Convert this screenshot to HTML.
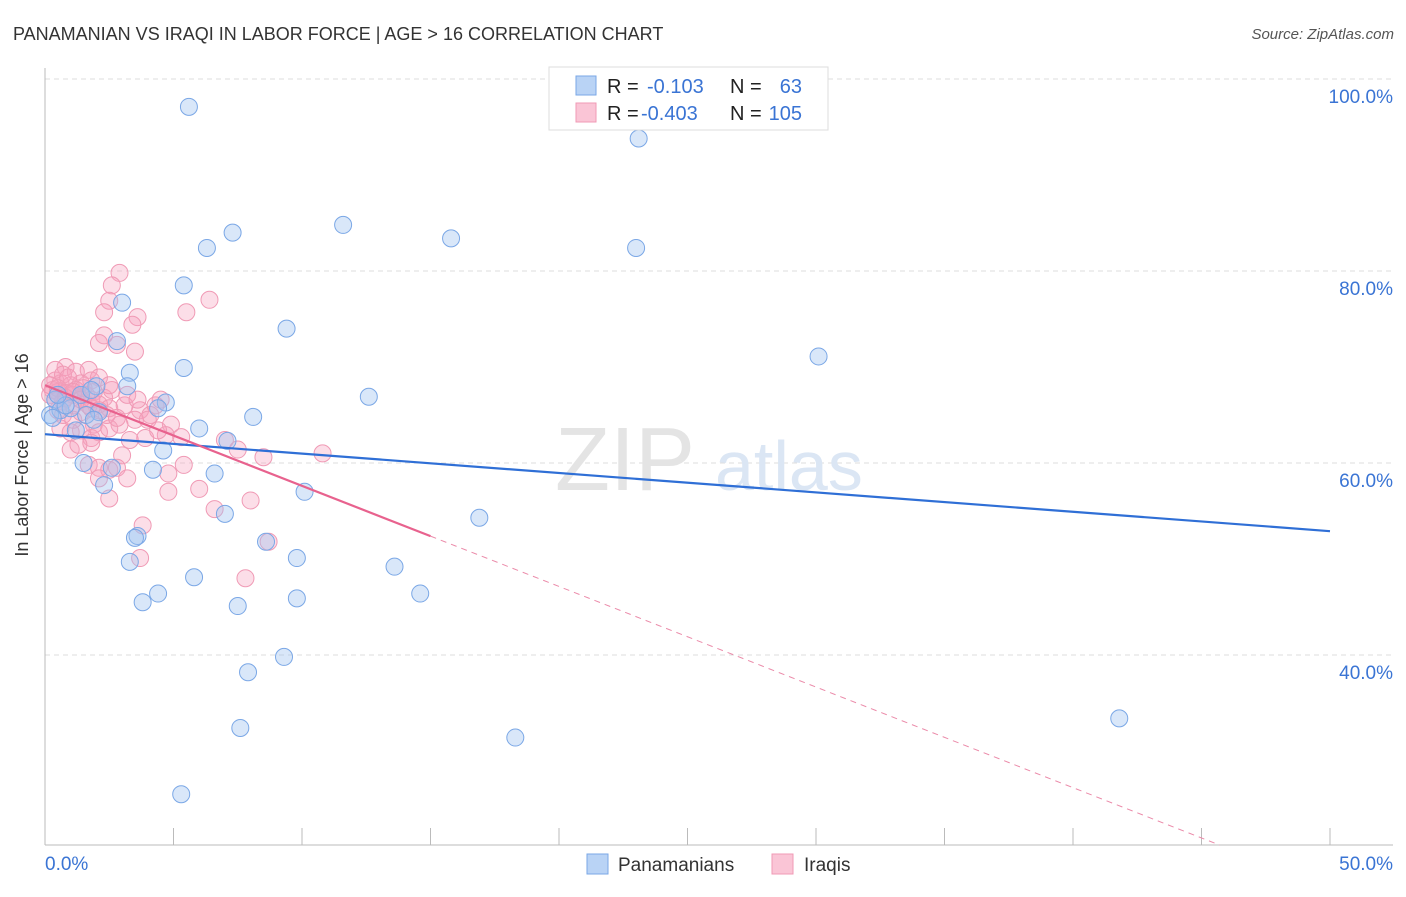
<!DOCTYPE html>
<html><head><meta charset="utf-8"><style>
body{margin:0;background:#fff;font-family:"Liberation Sans",sans-serif;}
svg text{font-family:"Liberation Sans",sans-serif;}
</style></head><body>
<svg id="chart" width="1406" height="892" xmlns="http://www.w3.org/2000/svg">
<text x="13" y="40" font-size="18" fill="#333">PANAMANIAN VS IRAQI IN LABOR FORCE | AGE &gt; 16 CORRELATION CHART</text>
<text x="1394" y="39" font-size="15" fill="#555" font-style="italic" text-anchor="end">Source: ZipAtlas.com</text>
<g id="grid"></g>
<text x="555" y="490" font-size="90" fill="#e4e4e4" font-family="Liberation Serif">ZIP</text>
<text x="715" y="490" font-size="70" fill="#dbe6f4">atlas</text>
<g id="axes"></g>
<g id="points"></g>
<g id="trends"></g>
<text x="28" y="455" font-size="18" fill="#333" text-anchor="middle" transform="rotate(-90 28 455)">In Labor Force | Age &gt; 16</text>
<g>
<rect x="549" y="67" width="279" height="63" fill="#fff" stroke="#ddd"/>
<rect x="576" y="76" width="20" height="19" fill="#b9d3f5" stroke="#7aa7e6"/>
<rect x="576" y="103" width="20" height="19" fill="#fac5d6" stroke="#f09ab5"/>
<text x="607" y="93" font-size="20" fill="#222">R = </text><text x="647" y="93" font-size="20" fill="#3a74d4">-0.103</text>
<text x="730" y="93" font-size="20" fill="#222">N = </text><text x="802" y="93" font-size="20" fill="#3a74d4" text-anchor="end">63</text>
<text x="607" y="120" font-size="20" fill="#222">R = </text><text x="641" y="120" font-size="20" fill="#3a74d4">-0.403</text>
<text x="730" y="120" font-size="20" fill="#222">N = </text><text x="802" y="120" font-size="20" fill="#3a74d4" text-anchor="end">105</text>
</g>
<g>
<rect x="587" y="854" width="21" height="20" fill="#b9d3f5" stroke="#7aa7e6"/>
<text x="618" y="871" font-size="19" fill="#333">Panamanians</text>
<rect x="772" y="854" width="21" height="20" fill="#fac5d6" stroke="#f09ab5"/>
<text x="804" y="871" font-size="19" fill="#333">Iraqis</text>
</g>
</svg>
<script>
const yTicks=[100,80,60,40];
const yTickLabels=["100.0%","80.0%","60.0%","40.0%"];
const xTickLabels=["0.0%","50.0%"];
const blueX=[5.6,23.1,7.3,11.6,15.8,23.0,6.3,5.4,3.0,9.4,2.8,30.1,5.4,3.3,3.2,2.0,12.6,8.1,4.7,4.4,6.0,7.1,4.6,4.2,6.6,2.6,1.5,2.3,10.1,7.0,16.9,3.6,3.5,8.6,9.8,3.3,13.6,5.8,4.4,3.8,9.8,14.6,7.5,9.3,7.9,41.8,7.6,18.3,5.3,0.2,0.4,0.6,1.0,1.4,1.8,2.1,1.2,0.8,0.3,1.6,1.9,0.5];
const blueY=[97.1,93.8,84.0,84.8,83.4,82.4,82.4,78.5,76.7,74.0,72.7,71.1,69.9,69.4,68.0,68.0,66.9,64.8,66.3,65.7,63.6,62.3,61.3,59.3,58.9,59.5,60.0,57.7,57.0,54.7,54.3,52.4,52.2,51.8,50.1,49.7,49.2,48.1,46.4,45.5,45.9,46.4,45.1,39.8,38.2,33.4,32.4,31.4,25.5,65.0,66.6,65.5,65.7,67.1,67.6,65.3,63.4,66.0,64.7,65.0,64.5,67.1];
const pinkX=[2.9,2.6,2.5,3.6,2.3,3.4,2.3,2.1,2.8,3.5,6.4,5.5,0.8,1.2,1.7,0.4,0.6,1.0,1.4,1.8,2.1,0.3,0.5,0.8,1.1,1.6,1.9,2.3,2.6,0.4,0.7,1.1,1.7,2.1,2.5,3.1,3.7,4.3,4.5,4.1,4.9,3.5,2.9,1.9,1.4,1.0,1.8,2.1,0.6,2.5,4.7,5.3,3.3,3.9,7.0,7.5,8.5,10.8,1.0,1.8,1.3,3.0,1.7,2.1,2.5,2.8,2.1,3.2,4.8,5.4,6.0,2.5,3.8,6.6,8.0,4.8,3.7,7.8,8.7,0.4,0.7,0.9,1.2,1.5,1.8,2.5,0.2,0.5,0.7,1.1,1.4,0.2,0.5,0.8,1.1,1.4,1.8,2.1,2.4,2.8,3.2,3.6,4.0,4.4];
const pinkY=[79.8,78.5,76.9,75.2,75.7,74.4,73.3,72.5,72.3,71.6,77.0,75.7,70.0,69.5,69.7,68.6,68.3,68.1,68.3,68.6,68.9,67.6,67.4,67.3,67.1,67.1,67.4,66.8,67.6,66.6,66.4,66.0,66.0,66.1,65.7,66.0,65.5,66.0,66.6,65.0,64.0,64.5,64.0,64.0,63.4,63.2,62.6,63.2,63.6,63.6,62.9,62.7,62.4,62.6,62.4,61.4,60.6,61.0,61.4,62.1,61.9,60.8,59.8,59.5,59.3,59.5,58.4,58.4,58.9,59.8,57.3,56.3,53.5,55.2,56.1,57.0,50.1,48.0,51.8,69.7,69.2,68.9,67.6,67.8,66.6,68.1,67.1,65.5,65.0,64.5,65.3,68.1,67.8,66.8,67.4,66.6,65.7,65.5,65.0,64.7,67.1,66.6,64.5,63.4];
const blueTrend=[63.0,52.9];
const pinkTrend=[68.1,15.7];
const pinkSolidEnd=15;

const NS="http://www.w3.org/2000/svg";
const X=v=>45+v*25.7, Y=v=>79+(100-v)*9.6;
function mk(t,a,p){const e=document.createElementNS(NS,t);for(const k in a)e.setAttribute(k,a[k]);p.appendChild(e);return e;}
const grid=document.getElementById('grid'),axes=document.getElementById('axes'),pts=document.getElementById('points'),tr=document.getElementById('trends');
yTicks.forEach((t,i)=>{
 const l=mk('line',{x1:45,x2:1393,y1:Y(t),y2:Y(t),stroke:'#ddd','stroke-dasharray':'5,4'},grid);
 
 
 const tx=mk('text',{x:1393,y:Y(t)+24,'font-size':19,fill:'#3a74d4','text-anchor':'end'},grid);
 tx.textContent=yTickLabels[i];
 
 
});
mk('line',{x1:45,x2:45,y1:68,y2:845,stroke:'#bbb'},axes);
mk('line',{x1:45,x2:1393,y1:845,y2:845,stroke:'#bbb'},axes);
for(let i=0;i<=10;i++){const x=X(i*5);mk('line',{x1:x,x2:x,y1:828,y2:845,stroke:'#bbb'},axes);}
[[0,'start',45],[1,'end',1393]].forEach(([i,a,x])=>{
 const tx=mk('text',{x:x,y:870,'font-size':19,fill:'#3a74d4','text-anchor':a},axes);
 tx.textContent=xTickLabels[i];
 
 
});
pinkX.forEach((v,i)=>{
 const c=mk('circle',{cx:X(v),cy:Y(pinkY[i]),r:8.5,fill:'rgba(246,160,190,0.35)',stroke:'#f09ab5','stroke-width':1},pts);
 
 
});
blueX.forEach((v,i)=>{
 const c=mk('circle',{cx:X(v),cy:Y(blueY[i]),r:8.5,fill:'rgba(160,195,240,0.4)',stroke:'#7aa7e6','stroke-width':1},pts);
 
 
});
const bl=mk('line',{x1:X(0),y1:Y(blueTrend[0]),x2:X(50),y2:Y(blueTrend[1]),stroke:'#2f6fd6','stroke-width':2.2},tr);


const pAt=x=>pinkTrend[0]+(pinkTrend[1]-pinkTrend[0])*x/50;
const ps=mk('line',{x1:X(0),y1:Y(pAt(0)),x2:X(pinkSolidEnd),y2:Y(pAt(pinkSolidEnd)),stroke:'#e8628e','stroke-width':2.2},tr);


const xEnd=50*(pinkTrend[0]-20.2)/(pinkTrend[0]-pinkTrend[1]);
const pd=mk('line',{x1:X(pinkSolidEnd),y1:Y(pAt(pinkSolidEnd)),x2:X(xEnd),y2:Y(pAt(xEnd)),stroke:'#eb8aa9','stroke-width':1,'stroke-dasharray':'6,5'},tr);


</script>
</body></html>
